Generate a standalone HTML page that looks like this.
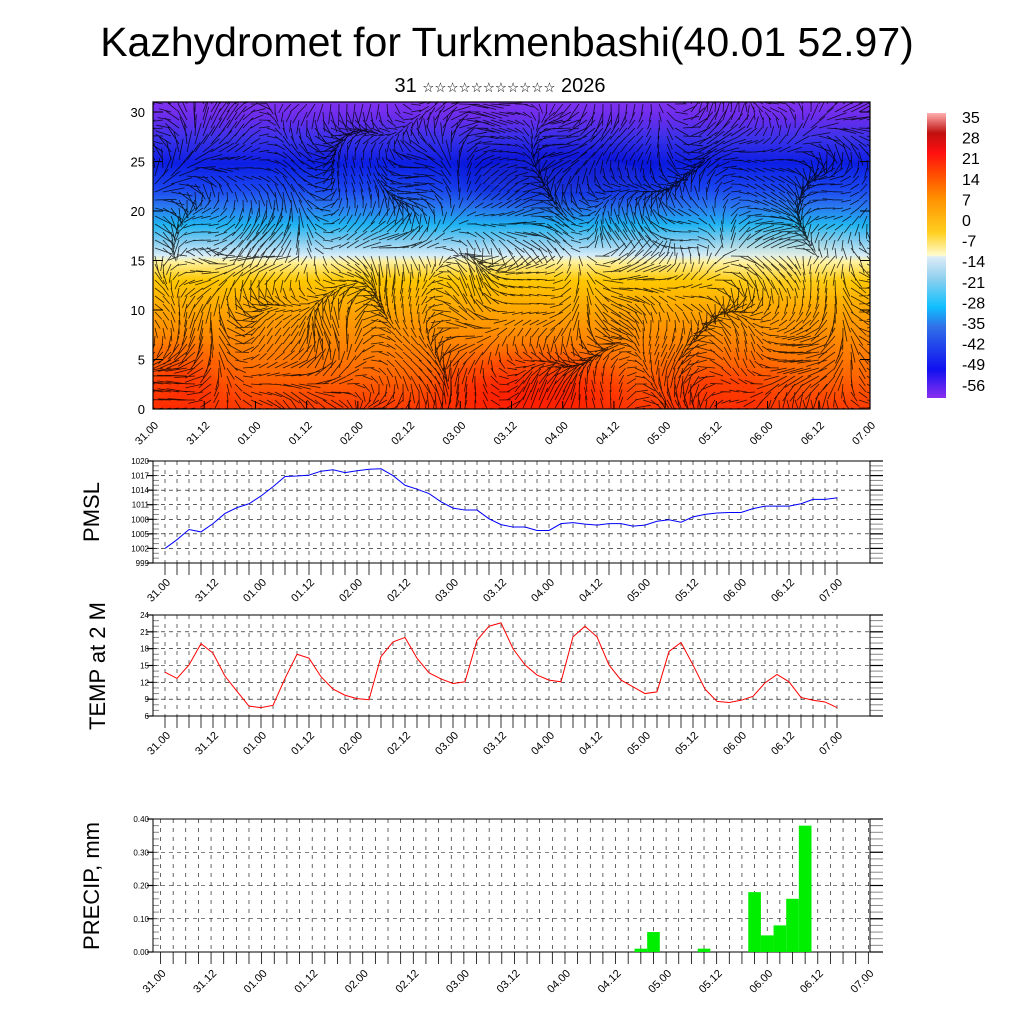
<!DOCTYPE html>
<html><head><meta charset="utf-8"><style>
body{margin:0;background:#fff;}
svg{display:block;font-family:"Liberation Sans",sans-serif;}
</style></head><body>
<svg id="c" width="1024" height="1024" viewBox="0 0 1024 1024" xmlns="http://www.w3.org/2000/svg">
<defs>
<linearGradient id="fieldGrad" x1="0" y1="409" x2="0" y2="102" gradientUnits="userSpaceOnUse">
<stop offset="0" stop-color="#ff3a00"/>
<stop offset="0.12" stop-color="#ff6a00"/>
<stop offset="0.3" stop-color="#ff9e00"/>
<stop offset="0.42" stop-color="#ffc800"/>
<stop offset="0.48" stop-color="#fff2a0"/>
<stop offset="0.5" stop-color="#d6ecf8"/>
<stop offset="0.55" stop-color="#7ccaf0"/>
<stop offset="0.6" stop-color="#20b4f2"/>
<stop offset="0.66" stop-color="#2a78f0"/>
<stop offset="0.72" stop-color="#1a44f0"/>
<stop offset="0.8" stop-color="#0c1ee4"/>
<stop offset="0.88" stop-color="#3a32ea"/>
<stop offset="0.95" stop-color="#6a2cec"/>
<stop offset="1" stop-color="#8232f0"/>
</linearGradient>
<linearGradient id="cbGrad" x1="0" y1="398" x2="0" y2="113" gradientUnits="userSpaceOnUse">
<stop offset="0" stop-color="#8a30f0"/>
<stop offset="0.1" stop-color="#1010f0"/>
<stop offset="0.25" stop-color="#3070e8"/>
<stop offset="0.32" stop-color="#10c0ff"/>
<stop offset="0.42" stop-color="#90d0ee"/>
<stop offset="0.495" stop-color="#dcecf8"/>
<stop offset="0.5" stop-color="#fffcd0"/>
<stop offset="0.58" stop-color="#ffd020"/>
<stop offset="0.7" stop-color="#ff9000"/>
<stop offset="0.78" stop-color="#ff5000"/>
<stop offset="0.86" stop-color="#ff1010"/>
<stop offset="0.93" stop-color="#c01010"/>
<stop offset="1" stop-color="#ffb0b0"/>
</linearGradient>
<filter id="blur"><feGaussianBlur stdDeviation="18"/></filter>
<clipPath id="fieldClip"><rect x="153" y="102" width="717" height="307"/></clipPath>
</defs>
<text x="507" y="56" font-size="41" text-anchor="middle">Kazhydromet for Turkmenbashi(40.01 52.97)</text>
<text x="500" y="92" font-size="20" text-anchor="middle" font-family="'Liberation Sans','DejaVu Sans',sans-serif">31 <tspan font-size="13.5">☆☆☆☆☆☆☆☆☆☆☆</tspan> 2026</text>
<g id="field" clip-path="url(#fieldClip)">
<rect x="153" y="102" width="717" height="307" fill="url(#fieldGrad)"/>
<g filter="url(#blur)">
<ellipse cx="530" cy="395" rx="90" ry="30" fill="#ff1000" opacity="0.8"/>
<ellipse cx="180" cy="390" rx="40" ry="30" fill="#ff2000" opacity="0.7"/>
<ellipse cx="720" cy="395" rx="60" ry="25" fill="#ff2000" opacity="0.6"/>
<ellipse cx="560" cy="175" rx="110" ry="18" fill="#0a10c0" opacity="0.7"/>
<ellipse cx="780" cy="262" rx="70" ry="12" fill="#fff4b0" opacity="0.6"/>
</g>
<g id="wind" stroke="#000" stroke-width="0.8" stroke-opacity="0.8" fill="none"></g>
</g>
<rect x="153" y="102" width="717" height="307" fill="none" stroke="#000" stroke-width="1.2"/>
<g id="fieldAxes"></g>
<rect x="927" y="113" width="19" height="285" fill="url(#cbGrad)"/>
<g id="cbLabels" font-size="16"></g>
<g id="pmsl"></g>
<g id="temp"></g>
<g id="precip"></g>
<text transform="translate(99,512) rotate(-90)" font-size="22" text-anchor="middle">PMSL</text>
<text transform="translate(105,666) rotate(-90)" font-size="22" text-anchor="middle">TEMP at 2 M</text>
<text transform="translate(99,886) rotate(-90)" font-size="22" text-anchor="middle">PRECIP, mm</text>
</svg>
<script>
const timeLabels=["31.00","31.12","01.00","01.12","02.00","02.12","03.00","03.12","04.00","04.12","05.00","05.12","06.00","06.12","07.00"];
const pmslValues=[1002,1003.8,1005.9,1005.4,1007.1,1009.2,1010.4,1011.2,1012.8,1014.7,1016.8,1016.9,1017.1,1017.9,1018.2,1017.6,1018,1018.3,1018.4,1017,1015,1014.2,1013.3,1011.6,1010.3,1009.9,1009.9,1008.1,1006.9,1006.4,1006.4,1005.7,1005.7,1007.1,1007.3,1007,1006.8,1007.1,1007.1,1006.6,1006.8,1007.6,1007.9,1007.4,1008.5,1009,1009.3,1009.4,1009.4,1010.2,1010.7,1010.7,1010.7,1011.2,1012.1,1012.1,1012.4];
const tempValues=[13.8,12.7,15.1,18.9,17.2,13.1,10.4,7.75,7.5,7.9,12.7,17,16.3,13,10.8,9.7,9.1,8.9,16.6,19.2,20,16.3,13.7,12.6,11.8,12.1,19.5,22,22.6,18,15.1,13.3,12.4,12.1,20.1,22,20.1,15.1,12.4,11.2,10,10.3,17.5,19.1,15.1,10.8,8.6,8.4,8.8,9.5,11.9,13.4,12.1,9.3,8.8,8.5,7.5];
const precipIndex=[38,39,43,47,48,49,50,51];
const precipValues=[0.01,0.06,0.01,0.18,0.05,0.08,0.16,0.38];
const pmslTicks=[999,1002,1005,1008,1011,1014,1017,1020];
const tempTicks=[6,9,12,15,18,21,24];
const precipTicks=[0,0.1,0.2,0.3,0.4];
const fieldYTicks=[0,5,10,15,20,25,30];
const colorbarLabels=["35","28","21","14","7","0","-7","-14","-21","-28","-35","-42","-49","-56"];

const NS="http://www.w3.org/2000/svg";
function mk(parent,tag,attrs,text){const e=document.createElementNS(NS,tag);for(const k in attrs)e.setAttribute(k,attrs[k]);if(text!==undefined)e.textContent=text;parent.appendChild(e);return e;}

// wind vectors (decorative texture)
const wind=document.getElementById('wind');
let d="";
for(let gx=155;gx<872;gx+=8){for(let gy=104;gy<410;gy+=8){
 const a=Math.sin(gx*0.021+gy*0.013)*1.6+Math.cos(gy*0.035-gx*0.008)*1.3+Math.sin(gx*0.07)*0.5+(gy>250?1.2:0);
 const L=16+6*Math.sin(gx*0.05+gy*0.03);
 const x2=gx+L*Math.cos(a),y2=gy+L*Math.sin(a);
 d+="M"+gx.toFixed(1)+" "+gy.toFixed(1)+"L"+x2.toFixed(1)+" "+y2.toFixed(1);
}}
mk(wind,'path',{d:d});



// field axes
const fa=document.getElementById('fieldAxes');
const fy=v=>409-v*9.9;
fieldYTicks.forEach(v=>{
 const t=mk(fa,'text',{x:145,y:fy(v)+5,'font-size':13,'text-anchor':'end'},String(v));
 
 
 mk(fa,'line',{x1:153,x2:163,y1:fy(v),y2:fy(v),stroke:'#000'});
 mk(fa,'line',{x1:860,x2:870,y1:fy(v),y2:fy(v),stroke:'#000'});
});
timeLabels.forEach((s,i)=>{
 const x=153+i*717/14;
 mk(fa,'line',{x1:x,x2:x,y1:409,y2:401,stroke:'#000'});
 const t=mk(fa,'text',{transform:`translate(${x+6},${426}) rotate(-45)`,'font-size':11,'text-anchor':'end'},s);
 
 
});

// colorbar labels
const cb=document.getElementById('cbLabels');
colorbarLabels.forEach((s,i)=>{
 const t=mk(cb,'text',{x:962,y:123+i*20.6},s);
 
 
});

function panel(gid,name,top,bot,x0,step,ymin,ymax,ticks,fmt,minorStep,xl){
 const g=document.getElementById(gid);
 
 
 const L=153,R=870;
 const ys=v=>bot-(v-ymin)/(ymax-ymin)*(bot-top);
 const xs=i=>x0+i*step;
 for(let i=0;i<=56;i++){const x=xs(i);if(x<L||x>R)continue;
  mk(g,'line',{x1:x,x2:x,y1:top,y2:bot,stroke:'#000','stroke-width':0.6,'stroke-dasharray':'4,5'});
  mk(g,'line',{x1:x,x2:x,y1:bot,y2:bot+12,stroke:'#000','stroke-width':0.8});
 }
 for(let v=ymin;v<=ymax+1e-9;v+=minorStep){const y=ys(v);
  mk(g,'line',{x1:L,x2:L+6,y1:y,y2:y,stroke:'#888','stroke-width':1});
  mk(g,'line',{x1:R,x2:R+13,y1:y,y2:y,stroke:'#888','stroke-width':1});
 }
 ticks.forEach(v=>{const y=ys(v);
  mk(g,'line',{x1:L,x2:R,y1:y,y2:y,stroke:'#000','stroke-width':0.6,'stroke-dasharray':'4,4'});
  mk(g,'line',{x1:R,x2:R+13,y1:y,y2:y,stroke:'#000','stroke-width':1.2});
  mk(g,'line',{x1:L-6,x2:L,y1:y,y2:y,stroke:'#000','stroke-width':1.2});
  const t=mk(g,'text',{x:L-4,y:y+3,'font-size':8,'text-anchor':'end'},fmt(v));
  
  
 });
 mk(g,'rect',{x:L,y:top,width:R-L,height:bot-top,fill:'none',stroke:'#000','stroke-width':1});
 timeLabels.forEach((s,k)=>{const x=xs(k*4);
  const t=mk(g,'text',{transform:`translate(${x+6},${bot+xl}) rotate(-45)`,'font-size':11,'text-anchor':'end'},s);
  
  
 });
 return {g,xs,ys};
}

const p=panel('pmsl','pmsl',461,563,165,12,999,1020,pmslTicks,v=>String(v),1,20);
mk(p.g,'polyline',{points:pmslValues.map((v,i)=>p.xs(i)+','+p.ys(v)).join(' '),fill:'none',stroke:'#0000ff','stroke-width':1});

const t=panel('temp','temp',615,716,165,12,6,24,tempTicks,v=>String(v),1,20);
mk(t.g,'polyline',{points:tempValues.map((v,i)=>t.xs(i)+','+t.ys(v)).join(' '),fill:'none',stroke:'#ff0000','stroke-width':1});

const q=panel('precip','precip',819,952,160.5,12.64,0,0.4,precipTicks,v=>v.toFixed(2),0.02,22);
precipValues.forEach((v,k)=>{
 const x=q.xs(precipIndex[k]);
 const r=mk(q.g,'rect',{x:x-6.3,y:q.ys(v),width:12.64,height:952-q.ys(v),fill:'#00ee00'});
 
 
});
</script>
</body></html>
